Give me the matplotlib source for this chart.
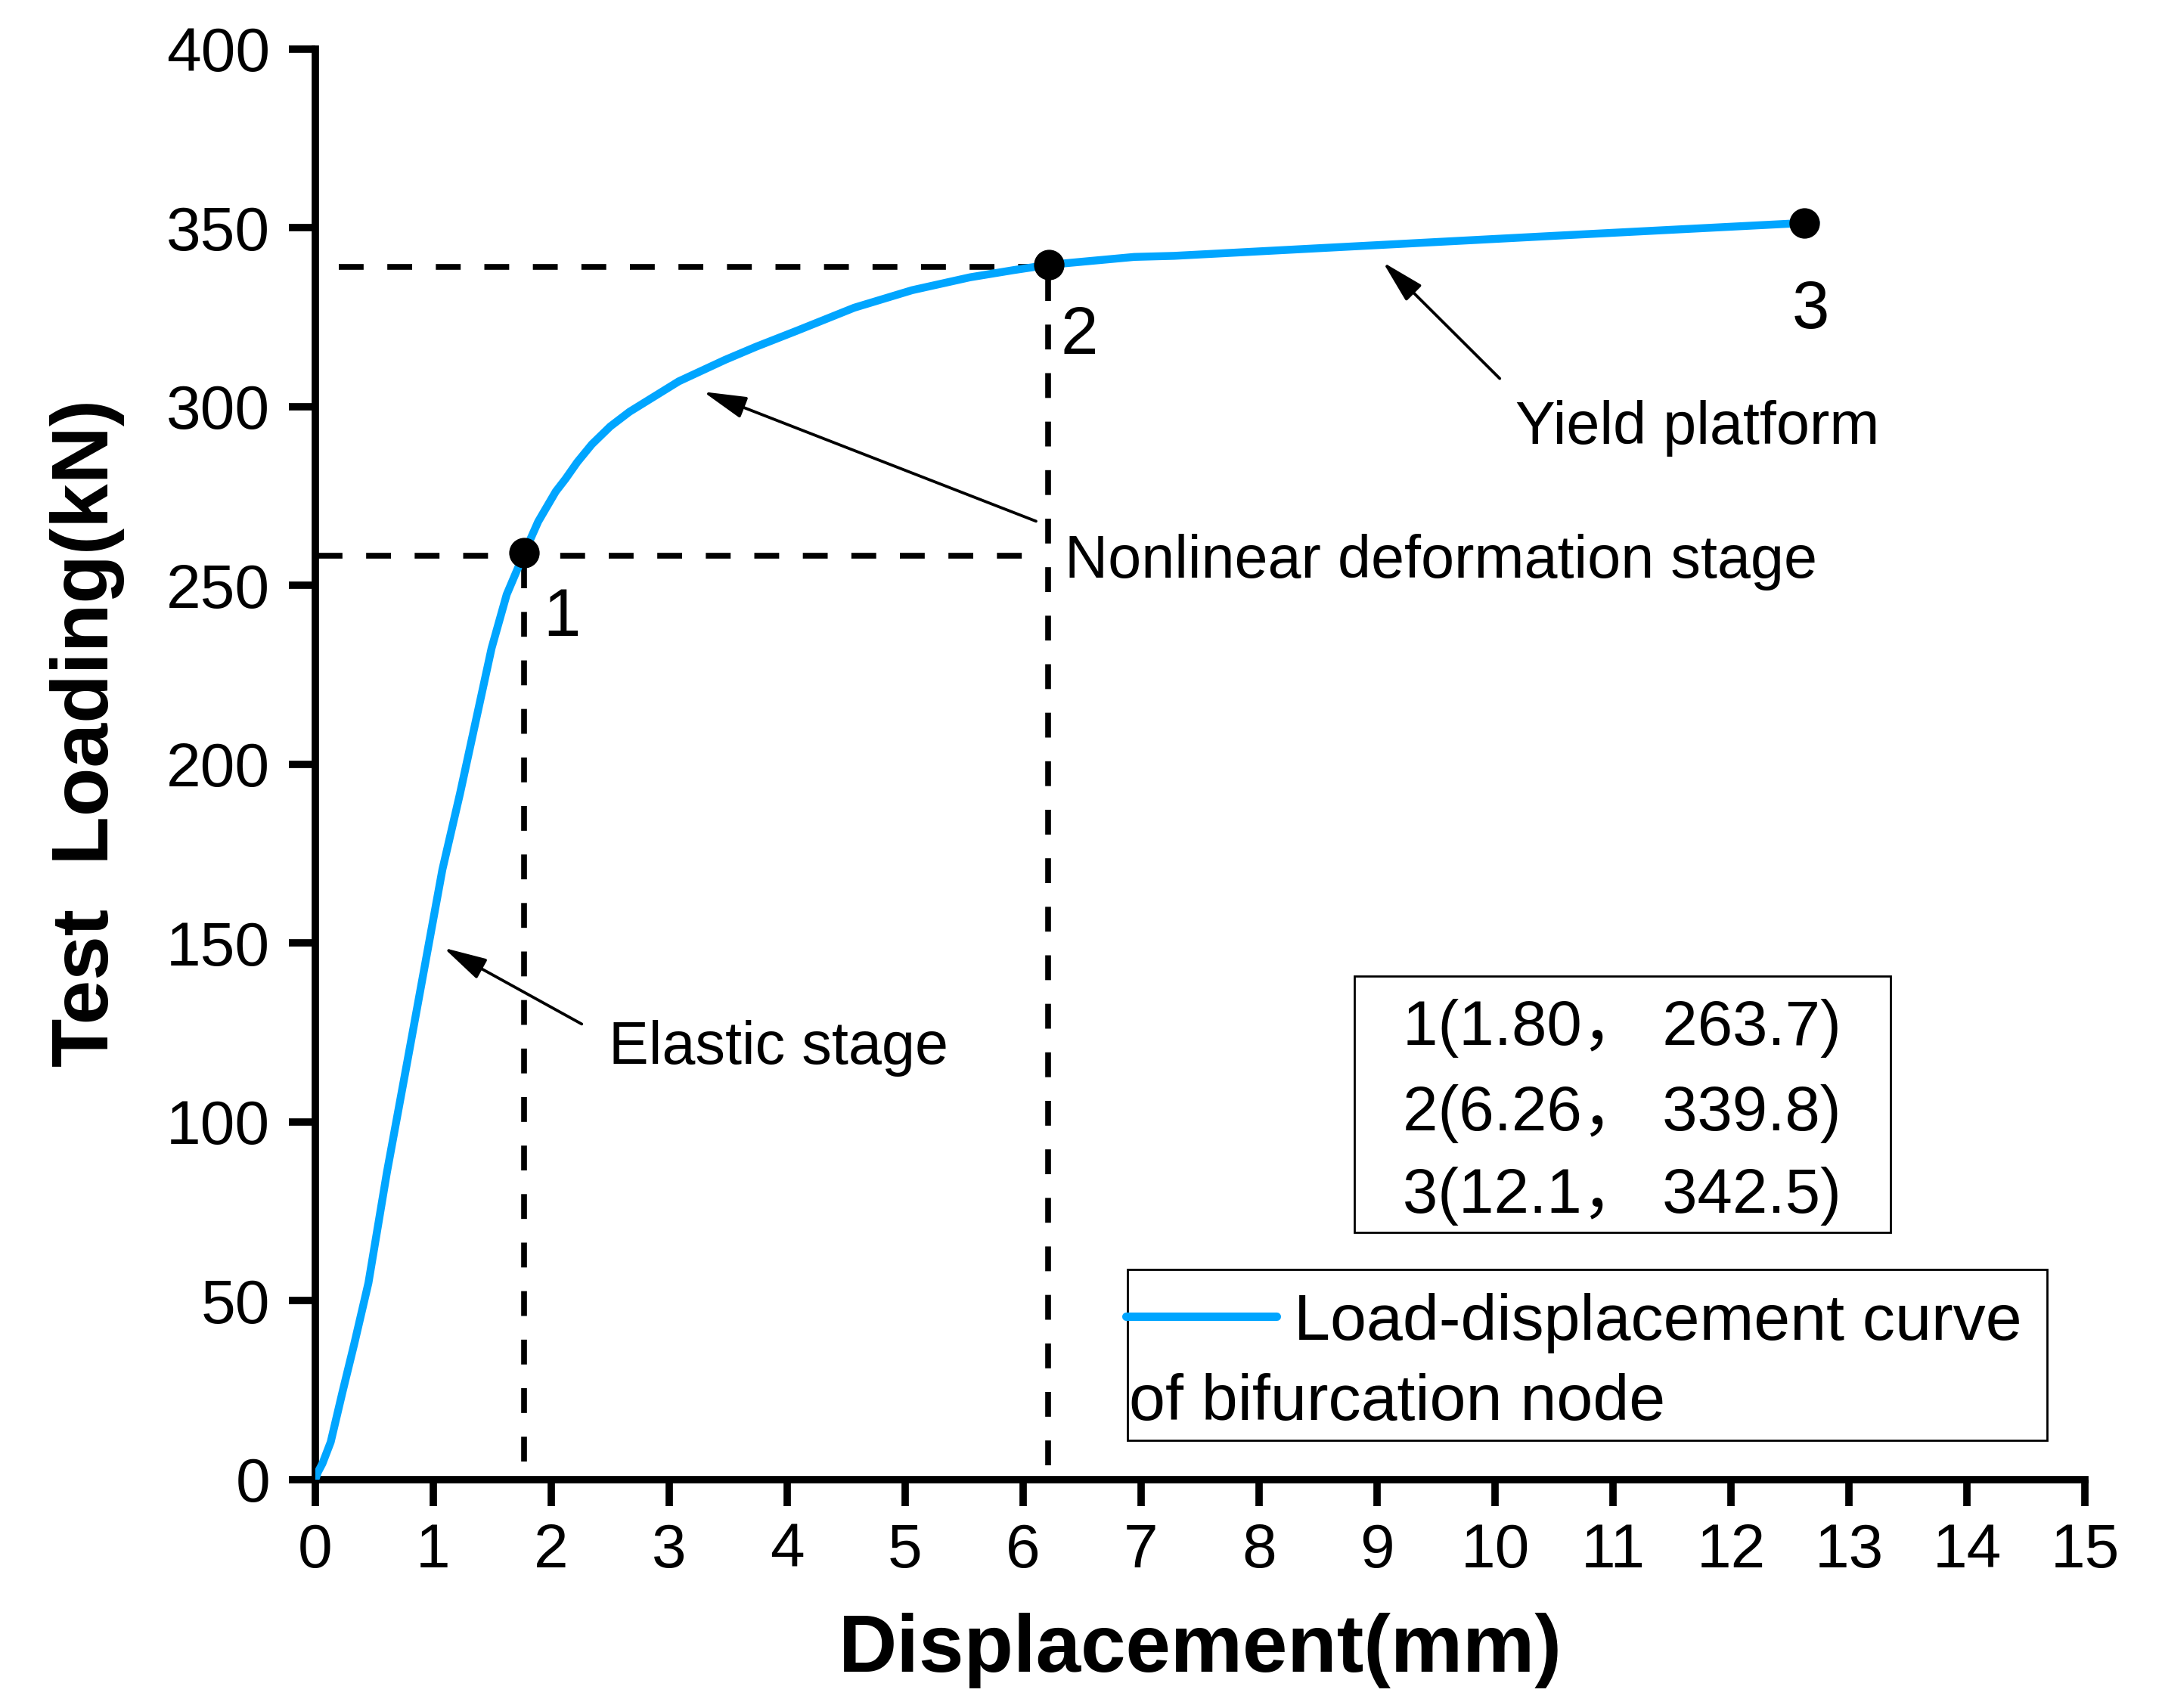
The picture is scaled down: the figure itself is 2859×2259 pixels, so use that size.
"""Load-displacement curve of the bifurcation node"""

import matplotlib
matplotlib.use("Agg")
import matplotlib.pyplot as plt
from matplotlib.patches import Rectangle

plt.rcParams['font.family'] = ['Liberation Sans', 'Noto Sans CJK SC']

# curve
disp = [0.0, 0.02, 0.06, 0.13, 0.23, 0.33, 0.45, 0.607, 0.78, 0.960,
        1.077, 1.226, 1.365, 1.494, 1.622, 1.771, 1.889, 2.038, 2.12, 2.22,
        2.344, 2.50, 2.663, 3.080, 3.472, 3.737, 4.077, 4.568, 5.059, 5.549,
        5.917, 6.218, 6.942, 7.28, 8.60, 10.56, 12.62, 12.72]
load = [0.0, 2.0, 4.5, 10.5, 24.5, 38.0, 55.0, 86.0, 117.0, 149.5,
        170.6, 191.8, 212.9, 232.5, 247.5, 259.1, 267.9, 276.3, 279.8, 284.5,
        289.5, 294.5, 298.6, 307.1, 313.1, 316.8, 321.2, 327.7, 332.6, 336.2,
        338.2, 339.7, 341.9, 342.2, 344.5, 347.9, 351.4, 351.6]

# characteristic points
key_x = [1.77, 6.22, 12.62]
key_y = [259.1, 339.7, 351.4]
key_names = ['1', '2', '3']
key_label_x = [1.93, 6.32, 12.52]
key_label_y = [236.0, 314.9, 321.9]

box_lines = ['1(1.80， 263.7)', '2(6.26， 339.8)', '3(12.1， 342.5)']

# stage annotations: text, text position, arrow tail, arrow tip
stages = [
    ('Elastic stage', (2.49, 116.3), (2.258, 127.4), (1.088, 148.7)),
    ('Nonlinear deformation stage', (6.35, 252.3), (6.109, 268.0), (3.288, 304.2)),
    ('Yield platform', (10.17, 289.7), (10.04, 307.9), (9.05, 340.4)),
]

curve_color = '#00A5FF'

fig = plt.figure(figsize=(28.59, 22.59), dpi=100)
ax = fig.add_axes([0.14586, 0.13369, 0.81846, 0.83754])

ax.plot(disp, load, color=curve_color, lw=7.5, solid_capstyle='round',
        solid_joinstyle='round', zorder=3)

# guide lines to the key points
dash = dict(color='black', lw=5.5, dashes=(4.3, 4.1), zorder=2)
ax.plot([0.02, 6.05], [key_y[0] - 0.8] * 2, **dash)
ax.plot([0.2, key_x[1]], [key_y[1] - 0.5] * 2, **dash)
ax.plot([key_x[0]] * 2, [5, key_y[0]], **dash)
ax.plot([key_x[1] - 0.01] * 2, [4, key_y[1]], **dash)

ax.plot(key_x, key_y, 'o', color='black', ms=28, zorder=4)
for name, lx, ly in zip(key_names, key_label_x, key_label_y):
    ax.text(lx, ly, name, fontsize=64, ha='left', va='baseline')

for txt, tpos, tail, tip in stages:
    ax.text(tpos[0], tpos[1], txt, fontsize=57, ha='left', va='baseline')
    ax.annotate('', xy=tip, xytext=tail,
                arrowprops=dict(arrowstyle='-|>,head_length=35,head_width=9',
                                mutation_scale=1, lw=2.75, color='black',
                                shrinkA=0, shrinkB=0))

# coordinates box
ax.add_patch(Rectangle((8.81, 69.1), 13.35 - 8.81, 140.8 - 69.1,
                       fill=False, lw=2, ec='black', zorder=5))
for line, by in zip(box_lines, [121.6, 97.7, 74.6]):
    ax.text(9.22, by, line, fontsize=60, ha='left', va='baseline')

# legend drawn Origin-style (second line wraps under the key)
ax.add_patch(Rectangle((6.885, 11.0), 14.68 - 6.885, 58.8 - 11.0,
                       fill=False, lw=2, ec='black', zorder=5))
ax.plot([6.87, 8.15], [45.7, 45.7], color=curve_color, lw=8,
        solid_capstyle='round', zorder=6)
ax.text(8.295, 39.1, 'Load-displacement curve', fontsize=62, ha='left', va='baseline')
ax.text(6.90, 16.7, 'of bifurcation node', fontsize=62, ha='left', va='baseline')

ax.set_xlim(0, 15)
ax.set_ylim(0, 400)
ax.set_xticks(range(0, 16))
ax.set_yticks(range(0, 401, 50))
ax.tick_params(direction='out', length=25, width=7, labelsize=59)
ax.tick_params(axis='x', pad=16)
ax.tick_params(axis='y', pad=18)

for s in ['top', 'right']:
    ax.spines[s].set_visible(False)
for s in ['left', 'bottom']:
    ax.spines[s].set_linewidth(7)

ax.set_xlabel('Displacement(mm)', fontsize=77, fontweight='bold', va='baseline')
ax.xaxis.set_label_coords(0.5, -0.1343)
ax.set_ylabel('Test  Loading(kN)', fontsize=76, fontweight='bold', va='baseline')
ax.yaxis.set_label_coords(-0.117, 0.5217)

fig.savefig('out.png', dpi=100)
